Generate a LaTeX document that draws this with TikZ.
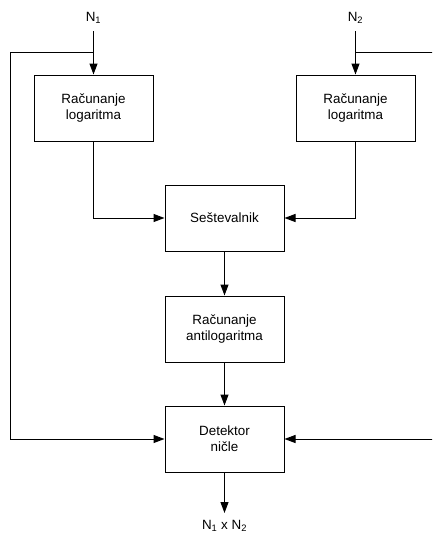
\documentclass[tikz,border=0pt]{standalone}
\usepackage{fontspec}
\setmainfont{Liberation Sans}
\usetikzlibrary{arrows.meta}
\begin{document}
\begin{tikzpicture}[x=1pt,y=-1pt,
  blk/.style={draw,line width=1pt,minimum width=119pt,minimum height=66pt,align=center,inner sep=0pt,font=\fontsize{13.4}{16}\selectfont},
  lbl/.style={inner sep=0pt,font=\fontsize{13.4}{16}\selectfont},
  conn/.style={line width=1pt},
  arr/.style={conn,-{Triangle[length=11pt,width=8pt]}}]
\useasboundingbox (0,0) rectangle (432,533);
\clip (0,0) rectangle (432,533);
\node[blk] (log1) at (93.5,108) {Računanje\\logaritma};
\node[blk] (log2) at (355.5,108) {Računanje\\logaritma};
\node[blk] (sum) at (224.5,218) {Seštevalnik};
\node[blk] (alog) at (224.5,329) {Računanje\\antilogaritma};
\node[blk] (det) at (224.5,439) {Detektor\\ničle};
\node[lbl] (n1) at (93.5,18) {N\textsubscript{1}};
\node[lbl] (n2) at (355.5,18) {N\textsubscript{2}};
\node[lbl] (out) at (224.5,526) {N\textsubscript{1} x N\textsubscript{2}};
\coordinate (t1) at (93.5,31);
\coordinate (t2) at (355.5,31);
\coordinate (b1) at (93.5,52);
\coordinate (b2) at (355.5,52);
\coordinate (o) at (224.5,513);
\draw[arr] (t1) -- (log1.north);
\draw[arr] (t2) -- (log2.north);
\draw[arr] (log1.south) |- (sum.west);
\draw[arr] (log2.south) |- (sum.east);
\draw[arr] (sum.south) -- (alog.north);
\draw[arr] (alog.south) -- (det.north);
\draw[arr] (det.south) -- (o);
\draw[arr] (b1) -| (10.5,439) -- (det.west);
\draw[arr] (b2) -| (436,439) -- (det.east);
\end{tikzpicture}
\end{document}
